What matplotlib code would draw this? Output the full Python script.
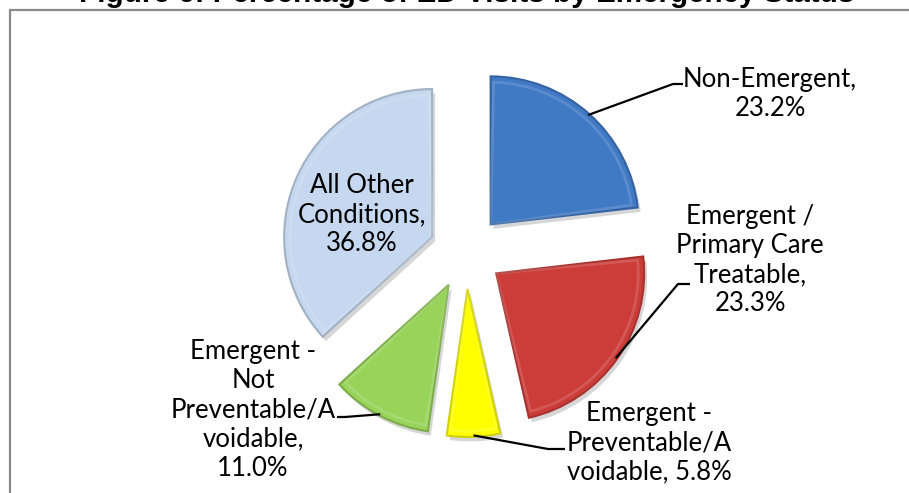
import matplotlib.pyplot as plt
import numpy as np
from matplotlib.patches import Wedge, Rectangle
from matplotlib.colors import to_rgb

# data
categories = ['Non-Emergent', 'Emergent / Primary Care Treatable',
              'Emergent - Preventable/Avoidable',
              'Emergent - Not Preventable/Avoidable', 'All Other Conditions']
shares = [23.2, 23.3, 5.8, 11.0, 36.8]
label_texts = ['Non-Emergent,\n23.2%',
               'Emergent /\nPrimary Care\nTreatable,\n23.3%',
               'Emergent -\nPreventable/A\nvoidable, 5.8%',
               'Emergent -\nNot\nPreventable/A\nvoidable,\n11.0%',
               'All Other\nConditions,\n36.8%']
colors = ['#4079c4', '#cc3d3a', '#ffff00', '#98d35a', '#c5d8ef']

# layout in pixels of the 909x493 picture
W, H = 909, 493
cx, cy, R = 466, 252, 148


def px(x, y):
    return (x - cx) / R, (cy - y) / R


def shade(c, f):
    r, g, b = to_rgb(c)
    return (r * f, g * f, b * f)


plt.rcParams['font.family'] = ['Lato', 'DejaVu Sans']

fig = plt.figure(figsize=(W / 100, H / 100), dpi=100)
ax = fig.add_axes([0, 0, 1, 1])

wedges, _ = ax.pie(shares, explode=[0.25] * len(shares), startangle=90,
                   counterclock=False, colors=colors, radius=1,
                   wedgeprops=dict(linewidth=1.5))
for w, c in zip(wedges, colors):
    w.set_edgecolor(shade(c, 0.82))
    w.set_zorder(3)
    # soft shadow
    sh = Wedge((w.center[0] + 0.02, w.center[1] - 0.03), w.r, w.theta1, w.theta2,
               facecolor='black', alpha=0.16, edgecolor='none', zorder=1)
    ax.add_patch(sh)
    # inner bevel highlight
    inner = Wedge(w.center, w.r * 0.96, w.theta1 + 1.2, w.theta2 - 1.2,
                  facecolor='none', edgecolor=(1, 1, 1, 0.14), linewidth=2, zorder=4)
    ax.add_patch(inner)

ax.set_aspect('auto')
ax.set_xlim(px(0, 0)[0], px(W, 0)[0])
ax.set_ylim(px(0, H)[1], px(0, 0)[1])
ax.axis('off')

# label blocks (pixel centre) and leader elbows
label_pos = [(770, 94), (750, 260), (649, 443), (253, 410), (362, 215)]
elbows = [[(673, 84), (683, 84)],
          [(678, 284), (690, 284)],
          [(548, 449), (565, 449)],
          [(345, 417), (337, 417)],
          None]

for w, txt, pos, elb in zip(wedges, label_texts, label_pos, elbows):
    x, y = px(*pos)
    ax.text(x, y, txt, ha='center', va='center', multialignment='center',
            fontsize=18.5, color='black', linespacing=1.2, zorder=6)
    if elb is not None:
        tm = np.deg2rad((w.theta1 + w.theta2) / 2)
        sx = w.center[0] + 0.99 * np.cos(tm)
        sy = w.center[1] + 0.99 * np.sin(tm)
        pts = [(sx, sy)] + [px(*p) for p in elb]
        ax.plot([p[0] for p in pts], [p[1] for p in pts], color='black',
                lw=1.6, zorder=5, solid_capstyle='butt')

# chart border (extends past the right and bottom of the picture)
fig.patches.append(Rectangle((10 / W, -0.1), 1.2, 1.1 - 10 / H,
                             transform=fig.transFigure, fill=False,
                             edgecolor='#8a8a8a', linewidth=1.6))

fig.text(467 / W, 1 - 2 / H, 'Figure 6: Percentage of ED Visits by Emergency Status',
         ha='center', va='baseline', fontsize=21.3, fontweight='bold',
         family='Liberation Sans')

fig.savefig('out.png', dpi=100)
